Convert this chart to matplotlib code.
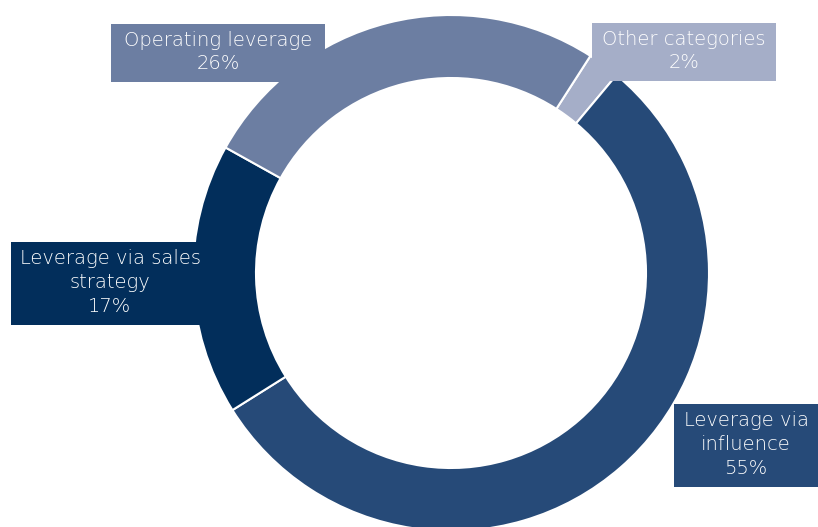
import matplotlib.pyplot as plt
from matplotlib.patches import Rectangle

# data, clockwise from the thin slice at top right
labels = ["Other categories", "Leverage via\ninfluence", "Leverage via sales\nstrategy", "Operating leverage"]
shares = [2, 55, 17, 26]
colors = ["#A5AEC8", "#264A78", "#022E5B", "#6C7EA2"]

# label boxes in pixels: (x0, y0_top, width, height)
boxes = [(592, 23, 184, 58), (674, 404, 144, 83), (11, 242, 198, 83), (111, 24, 214, 58)]

W, H = 818, 527
fig = plt.figure(figsize=(W / 100, H / 100), dpi=100)
ax = fig.add_axes([0, 0, 1, 1])

cx, cy, R = 451, H - 273, 258
wedges, _ = ax.pie(shares, colors=colors, startangle=57.3, counterclock=False,
                   center=(cx, cy), radius=R,
                   wedgeprops=dict(width=R - 195, edgecolor="white", linewidth=1.5))

for lab, val, col, (x0, y0, bw, bh) in zip(labels, shares, colors, boxes):
  ax.add_patch(Rectangle((x0, H - y0 - bh), bw, bh, facecolor=col, edgecolor="none", zorder=3))
  ax.text(x0 + bw / 2, H - y0 - bh / 2 + 1, f"{lab}\n{val}%", ha="center", va="center",
          color="white", fontsize=14, family=["DejaVu Sans"], fontweight="light",
          linespacing=1.3, zorder=4)

ax.set_xlim(0, W)
ax.set_ylim(0, H)
ax.set_aspect("equal")
ax.axis("off")
fig.savefig("out.png", dpi=100)
